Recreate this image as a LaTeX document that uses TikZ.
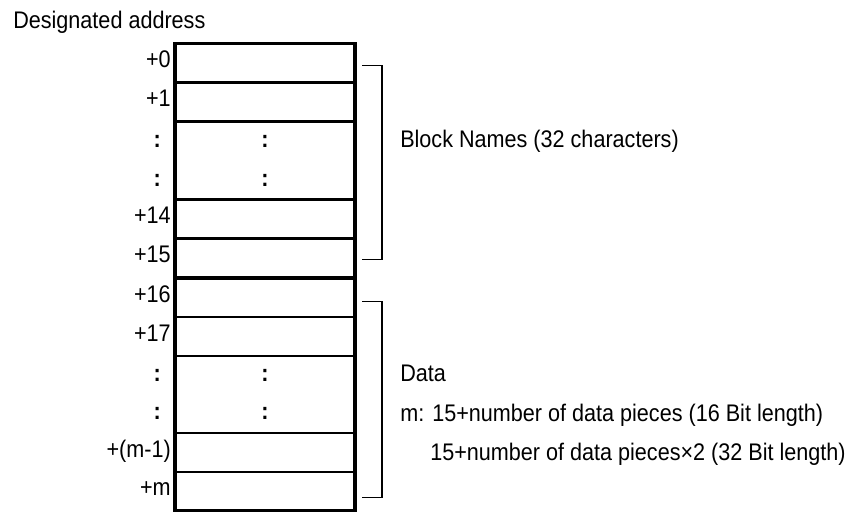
\documentclass[tikz,border=0pt]{standalone}
\usepackage{fontspec}
\setmainfont{Liberation Sans}[FakeStretch=0.9]
\usetikzlibrary{positioning}

\begin{document}
\begin{tikzpicture}[
  x=0.75pt,y=-0.75pt,
  font=\fontsize{18}{21}\selectfont,
  node distance=0pt,
  cell/.style={minimum width=135pt,minimum height=29.25pt,inner sep=0pt,
    outer sep=0pt},
  lowcell/.style={cell,minimum height=29pt},
  gap/.style={font=\fontsize{18}{21}\selectfont\bfseries},
  addr/.style={anchor=east,inner sep=0pt,text height=0.72em,text depth=0pt},
  dots/.style={gap,anchor=east,inner sep=0pt},
  note/.style={anchor=base west,inner sep=0pt},
  frame/.style={line width=2.8pt},
  rule/.style={line width=1.6pt},
  brack/.style={line width=0.9pt}
]
\useasboundingbox (0,0) rectangle (853,512);

\node[note] (title) at (13,28) {Designated address};

% block names, +0 to +15
\node[cell] (r0) at (265,63) {};
\node[cell,below=of r0] (r1) {};
\node[cell,gap,below=of r1] (r2) {:};
\node[cell,gap,below=of r2] (r3) {:};
\node[cell,below=of r3] (r4) {};
\node[cell,below=of r4] (r5) {};

% data, +16 to +m
\node[lowcell,below=0.75pt of r5] (q0) {};
\node[lowcell,below=of q0] (q1) {};
\node[lowcell,gap,below=of q1] (q2) {:};
\node[lowcell,gap,below=of q2] (q3) {:};
\node[lowcell,below=of q3] (q4) {};
\node[lowcell,below=of q4] (q5) {};

% offsets
\node[addr,left=3pt of r0] (a0) {+0};
\node[addr,left=3pt of r1] (a1) {+1};
\node[dots,left=10.5pt of r2] (a2) {:};
\node[dots,left=10.5pt of r3] (a3) {:};
\node[addr,left=3pt of r4] (a4) {+14};
\node[addr,left=3pt of r5] (a5) {+15};
\node[addr,left=3pt of q0] (b0) {+16};
\node[addr,left=3pt of q1] (b1) {+17};
\node[dots,left=10.5pt of q2] (b2) {:};
\node[dots,left=10.5pt of q3] (b3) {:};
\node[addr,left=3pt of q4] (b4) {+(m-1)};
\node[addr,left=3pt of q5] (b5) {+m};

\foreach \r in {r0,r1,r3,r4,q0,q1,q3,q4}
  \draw[rule] (\r.south west) -- (\r.south east);
\draw[frame] (r0.north west) rectangle (r5.south east);
\draw[frame] (q0.north west) rectangle (q5.south east);

% brackets
\draw[brack] ([xshift=5.25pt,yshift=-2pt]r0.east) -- ++(20,0)
  |- ([xshift=5.25pt,yshift=-1pt]r5.east);
\draw[brack] ([xshift=5.25pt,yshift=-3pt]q0.east) -- ++(20,0)
  |- ([xshift=5.25pt,yshift=-4.5pt]q5.east);

\node[note] (names) at (400,147) {Block Names (32 characters)};
\node[note] (data) at (400,381) {Data};
\node[note] (mlen) at (400,421) {m: 15+number of data pieces (16 Bit length)};
\node[note] (mlen2) at (400,460)
  {\hphantom{m:\ }15+number of data pieces×2 (32 Bit length)};
\end{tikzpicture}
\end{document}
